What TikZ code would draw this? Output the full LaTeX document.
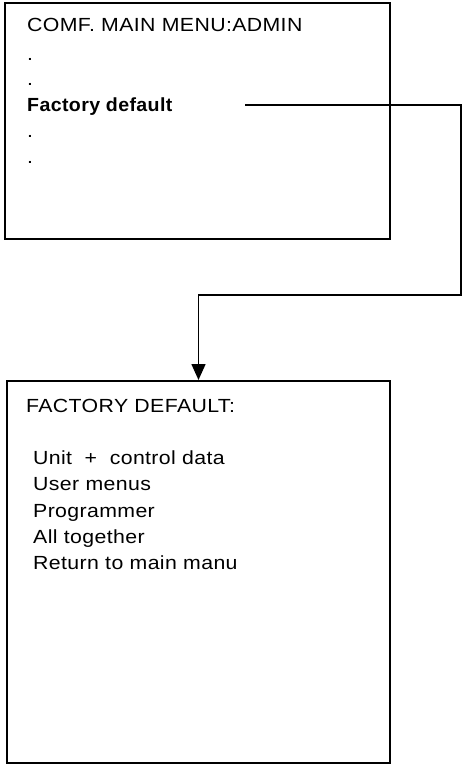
\documentclass[tikz,border=0pt]{standalone}
\usepackage{fontspec}
\setmainfont{Liberation Sans}[FakeStretch=1.12, LetterSpace=2,
    BoldFeatures={FakeStretch=1.03}]
\usetikzlibrary{arrows.meta}

\begin{document}
\begin{tikzpicture}[x=1pt, y=-1pt,
    menubox/.style = {draw, line width=2pt, anchor=north west, inner sep=0pt},
    menuline/.style = {anchor=base west, inner sep=0pt, font=\fontsize{19}{22}\selectfont},
    link/.style = {draw, line width=1.6pt, -{Triangle[width=14pt, length=16pt]}}]
    \useasboundingbox (0,0) rectangle (462,764);

    % admin menu
    \node[menubox, minimum width=385pt, minimum height=236pt] (menuAdmin) at (4,2) {};
    \node[menuline] (titleAdmin) at (27,31) {COMF. MAIN MENU:ADMIN};
    \foreach \y [count=\i] in {60,85,137,163}
        \node[menuline] (dotAdmin\i) at (27,\y) {.};
    \node[menuline, font=\fontsize{19}{22}\selectfont\bfseries] (itemFactory) at (27,111) {Factory default};

    % factory default menu
    \node[menubox, minimum width=383pt, minimum height=382pt] (menuFactory) at (6,380) {};
    \node[menuline] (titleFactory) at (26,412) {FACTORY DEFAULT:};
    \foreach \txt/\y [count=\i] in {{Unit\ \ +\ \ control data}/464, {User menus}/490,
        {Programmer}/517, {All together}/543, {Return to main manu}/569}
        \node[menuline] (itemDefault\i) at (33,\y) {\txt};

    \coordinate (tapFactory) at (245,105);
    \coordinate (turnBack) at (461,295);
    \draw[link] (tapFactory) -| (turnBack) -| (menuFactory.north);
\end{tikzpicture}
\end{document}
